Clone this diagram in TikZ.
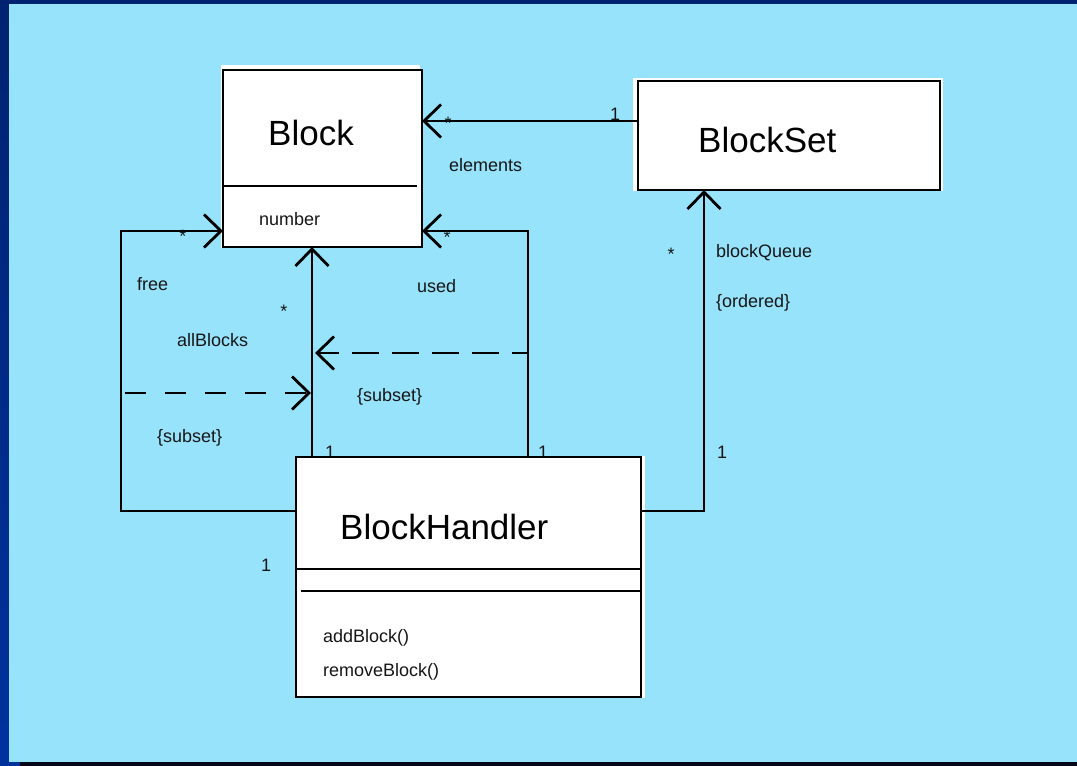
\documentclass[tikz,border=0pt]{standalone}
\usepackage{fontspec}
\setmainfont{Liberation Sans}
\usetikzlibrary{arrows.meta}
\definecolor{sky}{RGB}{152,227,252}
\definecolor{navytop}{RGB}{0,34,112}
\definecolor{navybot}{RGB}{0,50,158}
\definecolor{edgedark}{RGB}{0,8,26}
\definecolor{ink}{RGB}{22,22,22}

\begin{document}
\begin{tikzpicture}[x=1pt,y=-1pt,
  classbox/.style={draw=black, fill=white, line width=2.8pt, rectangle,
    inner sep=0pt, outer sep=0pt, anchor=north west},
  title/.style={font=\fontsize{35}{40}\selectfont, anchor=base west, inner sep=0pt, text=black},
  lbl/.style={font=\fontsize{18}{21}\selectfont, anchor=base west, inner sep=0pt, text=ink},
  star/.style={font=\fontsize{18}{21}\selectfont, anchor=base, inner sep=0pt, text=ink},
  assoc/.style={draw=black, line width=2.8pt, -{Straight Barb[length=17pt,width=33pt]}},
  rule/.style={draw=black, line width=2.8pt}]

% slide background
\useasboundingbox (0,0) rectangle (1077,766);
\shade[top color=navytop, bottom color=navybot] (0,0) rectangle (1077,766);
\fill[sky] (9,4) rectangle (1077,762);
\fill[edgedark] (20,762) rectangle (1077,766);

% multiplicities partly tucked under the BlockHandler box
\node[lbl] (mAllOne) at (325,458) {1};
\node[lbl] (mUsedOne) at (538,458) {1};

% white backing of the class boxes
\fill[white] (221,65) rectangle (420,248);
\fill[white] (633,78) rectangle (943,191);
\fill[white] (296,456) rectangle (645,698);

% classes
\node[classbox, minimum width=199pt, minimum height=177pt] (Block) at (223,70) {};
\draw[rule] ([yshift=-116pt]Block.north west) -- ([yshift=-116pt,xshift=194pt]Block.north west);
\node[title] (BlockName) at (268,145) {Block};
\node[lbl] (BlockAttr) at (259,225) {number};

\node[classbox, minimum width=302pt, minimum height=109pt] (BlockSet) at (638,81) {};
\node[title] (BlockSetName) at (698,152) {BlockSet};

\node[classbox, minimum width=345pt, minimum height=240pt] (BlockHandler) at (296,457) {};
\draw[rule] ([yshift=-112pt]BlockHandler.north west) -- ([yshift=-112pt]BlockHandler.north east);
\draw[rule] ([yshift=-134pt,xshift=5pt]BlockHandler.north west) -- ([yshift=-134pt]BlockHandler.north east);
\node[title] (BlockHandlerName) at (340,539) {BlockHandler};
\node[lbl] (opAdd) at (323,642) {addBlock()};
\node[lbl] (opRemove) at (323,676) {removeBlock()};

% associations
\draw[assoc] (BlockSet.west |- 0,121) -- (Block.east |- 0,121);
\draw[assoc] (BlockHandler.west |- 0,511) -- (121,511) -- (121,231) -- (Block.west |- 0,231);
\draw[assoc] (BlockHandler.north -| 312,0) -- (Block.south -| 312,0);
\draw[assoc] (BlockHandler.north -| 528,0) -- (528,231) -- (Block.east |- 0,231);
\draw[assoc] (BlockHandler.east |- 0,511) -- (704,511) -- (BlockSet.south -| 704,0);

% subset constraints
\coordinate (usedSub) at (528,353);
\coordinate (usedSubEnd) at (315,353);
\coordinate (freeSub) at (125,393);
\coordinate (freeSubEnd) at (311,393);
\draw[assoc, dash pattern=on 27pt off 13pt, dash phase=11pt] (usedSub) -- (usedSubEnd);
\draw[assoc, dash pattern=on 21pt off 19pt] (freeSub) -- (freeSubEnd);

% role names and multiplicities
\node[lbl] (mSetOne) at (610,120) {1};
\node[star] (mElem) at (448,129) {*};
\node[lbl] (rElem) at (449,171) {elements};

\node[star] (mFree) at (183,242) {*};
\node[lbl] (rFree) at (137,290) {free};
\node[star] (mAll) at (284,317) {*};
\node[lbl] (rAll) at (177,346) {allBlocks};
\node[lbl] (rUsed) at (417,292) {used};
\node[star] (mUsed) at (447,243) {*};
\node[lbl] (cUsed) at (357,401) {\{subset\}};
\node[lbl] (cFree) at (157,442) {\{subset\}};
\node[lbl] (mFreeOne) at (261,571) {1};

\node[star] (mQueue) at (671,260) {*};
\node[lbl] (rQueue) at (716,257) {blockQueue};
\node[lbl] (cQueue) at (716,307) {\{ordered\}};
\node[lbl] (mQueueOne) at (717,458) {1};
\end{tikzpicture}
\end{document}
